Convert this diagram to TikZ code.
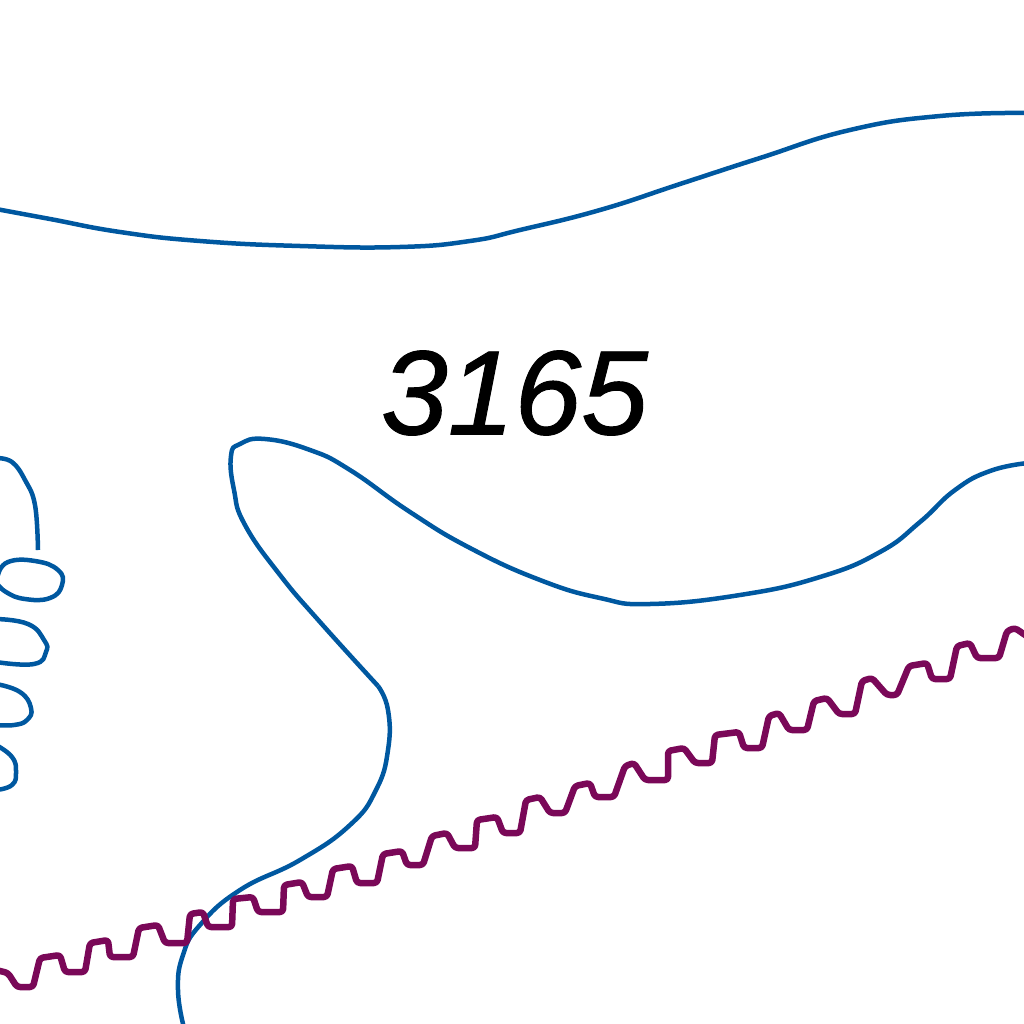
\documentclass[tikz,border=0pt]{standalone}
\usepackage{fontspec}
\setmainfont{Liberation Sans}
\definecolor{contourblue}{HTML}{0058A0}
\definecolor{wavepurple}{HTML}{7A0858}
\tikzset{
  contour/.style={draw=contourblue, line width=4.5pt, line join=round},
  wave/.style={draw=wavepurple, line width=6.5pt, line join=round, rounded corners=3pt}
}
\begin{document}
\begin{tikzpicture}[x=1pt, y=-1pt]
\useasboundingbox (0,0) rectangle (1024,1024);

% Upper contour
\draw[contour] plot[smooth, tension=0.8] coordinates {(-4,209) (50,219) (120,232) (200,241) (300,246) (400,247) (470,241) (520,230) (600,210) (680,184) (760,158) (850,130) (940,116) (1028,113)};

% Middle contour
\draw[contour] plot[smooth, tension=0.8] coordinates {(1028,463) (990,471) (955,490) (920,522) (880,552) (820,577) (740,595) (650,604) (600,598) (540,580) (470,548) (410,512) (350,470) (310,450) (265,439) (240,444) (231,456) (234,490) (245,525) (280,575) (320,622) (378,686)};
\draw[contour] plot[smooth, tension=0.8] coordinates {(378,686) (388,710) (388,750) (376,790) (350,825) (300,860) (240,890) (200,925) (183,955) (178,990) (184,1028)};

% Left loops
\draw[contour] plot[smooth, tension=0.7] coordinates {(-4,458) (12,462) (25,480) (35,505) (38,550)};
\draw[contour] plot[smooth, tension=0.8] coordinates {(-2,575) (8,562) (35,561) (58,570) (62,585) (50,598) (25,599) (6,592) (-4,582)};
\draw[contour] plot[smooth, tension=0.8] coordinates {(-4,619) (28,624) (44,640) (46,652) (34,664) (-4,662)};
\draw[contour] plot[smooth, tension=0.8] coordinates {(-4,684) (20,692) (31,708) (27,720) (14,725) (-4,725)};
\draw[contour] plot[smooth, tension=0.8] coordinates {(-4,745) (12,757) (16,772) (12,785) (-4,790)};

% Wave
\draw[wave] (-4,970) -- (8,973) -- (17,987) -- (33,987) -- (40,958) -- (60,955) -- (65,972) -- (85,972) -- (90,943) -- (108,940) -- (110,957) -- (133,957) -- (139,928) -- (158,925) -- (165,943) -- (187,943) -- (190,914) -- (203,912) -- (208,927) -- (232,927) -- (233,899) -- (253,897) -- (258,912) -- (283,912) -- (284,885) -- (302,882) -- (308,897) -- (327,897) -- (333,869) -- (352,866) -- (357,883) -- (377,883) -- (383,854) -- (402,851) -- (407,865) -- (423,865) -- (432,836) -- (447,833) -- (455,848) -- (475,848) -- (477,820) -- (497,817) -- (503,833) -- (520,833) -- (526,800) -- (540,797) -- (550,813) -- (565,813) -- (575,786) -- (590,783) -- (595,797) -- (614,797) -- (625,766) -- (634,763) -- (645,780) -- (668,780) -- (668,751) -- (684,748) -- (695,763) -- (712,763) -- (715,735) -- (739,732) -- (744,748) -- (762,748) -- (769,716) -- (779,713) -- (789,730) -- (807,730) -- (814,701) -- (827,698) -- (839,714) -- (855,714) -- (862,681) -- (872,678) -- (887,695) -- (897,695) -- (909,666) -- (927,663) -- (932,679) -- (950,679) -- (957,646) -- (970,643) -- (977,658) -- (999,658) -- (1007,631) -- (1015,628) -- (1028,637);

% Label
\node[inner sep=0pt, anchor=center] (label) at (514.5,393) {\fontsize{120}{120}\selectfont\itshape\addfontfeature{FakeBold=0.8}3165};
\end{tikzpicture}
\end{document}
